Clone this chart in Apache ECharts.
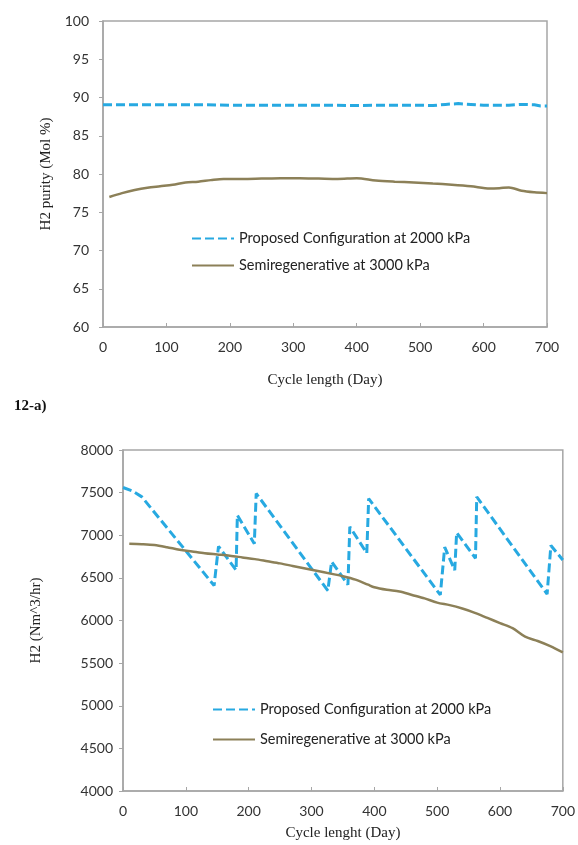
<!DOCTYPE html>
<html><head><meta charset="utf-8">
<script src="https://cdn.jsdelivr.net/npm/echarts@6/dist/echarts.min.js"></script>
<style>html,body{margin:0;padding:0;background:#fff}#c{width:578px;height:845px}</style>
</head><body><div id="c"></div>
<script>
// ---- Chart 12-a (top): H2 purity ----
const purityProposedDays = [0, 50, 100, 150, 200, 250, 300, 350, 400, 450, 500, 520, 540, 560, 580, 600, 640, 660, 680, 690, 700];
const purityProposed     = [89.05, 89.05, 89.05, 89.05, 89.0, 89.0, 89.0, 89.0, 88.95, 89.0, 89.0, 88.95, 89.1, 89.2, 89.1, 89.0, 89.0, 89.1, 89.05, 88.9, 88.9];
const puritySemiDays = [10, 30, 50, 70, 90, 110, 130, 150, 170, 190, 220, 250, 280, 310, 340, 370, 400, 430, 460, 490, 520, 550, 580, 610, 625, 640, 660, 680, 700];
const puritySemi     = [77.0, 77.5, 77.9, 78.2, 78.4, 78.6, 78.9, 79.0, 79.2, 79.35, 79.35, 79.4, 79.45, 79.45, 79.4, 79.35, 79.45, 79.15, 79.0, 78.9, 78.75, 78.6, 78.4, 78.1, 78.15, 78.25, 77.8, 77.6, 77.5];

// ---- Chart 12-b (bottom): H2 flow ----
const flowProposedDays = [0, 15, 30, 145, 148, 152, 180, 182, 209, 212, 326, 329, 332, 358, 361, 388, 391, 505, 508, 512, 528, 531, 561, 563, 675, 678, 681, 700];
const flowProposed     = [7560, 7520, 7450, 6410, 6390, 6870, 6590, 7235, 6900, 7490, 6350, 6330, 6690, 6420, 7100, 6790, 7430, 6300, 6280, 6860, 6590, 7030, 6730, 7450, 6310, 6290, 6880, 6710];
const flowSemiDays = [10, 30, 50, 70, 90, 110, 130, 150, 170, 190, 210, 230, 250, 270, 290, 310, 330, 350, 370, 390, 400, 420, 440, 460, 480, 500, 520, 540, 560, 580, 600, 620, 640, 660, 680, 700];
const flowSemi     = [6900, 6895, 6885, 6860, 6830, 6810, 6790, 6775, 6760, 6740, 6720, 6695, 6670, 6640, 6610, 6580, 6550, 6520, 6480, 6420, 6390, 6360, 6340, 6300, 6260, 6210, 6180, 6140, 6090, 6030, 5970, 5910, 5810, 5760, 5700, 5625];

const seriesNames = ['Proposed Configuration at 2000 kPa', 'Semiregenerative at 3000 kPa'];
const topTitle = '12-a)';
const topXName = 'Cycle length (Day)';
const topYName = 'H2 purity (Mol %)';
const botXName = 'Cycle lenght (Day)';
const botYName = 'H2 (Nm^3/hr)';

const pairs = (xs, ys) => xs.map((x, i) => [x, ys[i]]);

const BLUE = '#27a9e1';
const BROWN = '#8c8058';
const AXIS = '#a6a6a6';
const SANS = 'Lato';
const SERIF = 'Liberation Serif';

const chart = echarts.init(document.getElementById('c'), null, {renderer: 'canvas'});

function xAx(gi, name, gap) {
  return {
    gridIndex: gi, type: 'value', min: 0, max: 700, interval: 100,
    name: name, nameLocation: 'middle', nameGap: gap,
    nameTextStyle: {fontFamily: SERIF, fontSize: 15, color: '#222'},
    axisLine: {show: true, lineStyle: {color: AXIS, width: 1.5}},
    axisTick: {show: true, inside: true, length: 4, lineStyle: {color: AXIS}},
    axisLabel: {fontFamily: SANS, fontSize: 14, color: '#333', margin: 13},
    splitLine: {show: false}
  };
}
function yAx(gi, name, gap, min, max, interval, lm) {
  return {
    gridIndex: gi, type: 'value', min: min, max: max, interval: interval,
    name: name, nameLocation: 'middle', nameGap: gap,
    nameTextStyle: {fontFamily: SERIF, fontSize: 15, color: '#222'},
    axisLine: {show: true, lineStyle: {color: AXIS, width: 1.5}},
    axisTick: {show: true, inside: false, length: 4, lineStyle: {color: AXIS}},
    axisLabel: {fontFamily: SANS, fontSize: 14, color: '#333', margin: lm, formatter: v => String(v)},
    splitLine: {show: false}
  };
}

chart.setOption({
  animation: false,
  backgroundColor: '#fff',
  grid: [
    {left: 103, top: 21, width: 444, height: 306, show: true, borderColor: AXIS, borderWidth: 1.5},
    {left: 123, top: 450, width: 442, height: 341, show: true, borderColor: AXIS, borderWidth: 1.5}
  ],
  xAxis: [xAx(0, topXName, 46), xAx(1, botXName, 35)],
  yAxis: [yAx(0, topYName, 38, 60, 100, 5, 14), yAx(1, botYName, 79, 4000, 8000, 500, 10)],
  graphic: [{
    type: 'text', left: 14, top: 399,
    style: {text: topTitle, font: 'bold 15px "Liberation Serif"', fill: '#111'}
  }],
  legend: [
    {left: 186, top: 226, orient: 'vertical', itemWidth: 42, itemHeight: 14, itemGap: 12,
     data: seriesNames, selectedMode: false, itemStyle: {opacity: 0},
     textStyle: {fontFamily: SANS, fontSize: 14.5, color: '#222'}},
    {left: 207, top: 697, orient: 'vertical', itemWidth: 42, itemHeight: 14, itemGap: 15,
     data: seriesNames, selectedMode: false, itemStyle: {opacity: 0},
     textStyle: {fontFamily: SANS, fontSize: 14.5, color: '#222'}}
  ],
  series: [
    {name: seriesNames[0], type: 'line', xAxisIndex: 0, yAxisIndex: 0, showSymbol: false, symbol: 'none',
     data: pairs(purityProposedDays, purityProposed),
     lineStyle: {color: BLUE, width: 3, type: [9, 4]}, itemStyle: {color: BLUE}},
    {name: seriesNames[1], type: 'line', xAxisIndex: 0, yAxisIndex: 0, showSymbol: false, symbol: 'none',
     data: pairs(puritySemiDays, puritySemi), smooth: 0.3,
     lineStyle: {color: BROWN, width: 2.5}, itemStyle: {color: BROWN}},
    {name: seriesNames[0], type: 'line', xAxisIndex: 1, yAxisIndex: 1, showSymbol: false, symbol: 'none',
     data: pairs(flowProposedDays, flowProposed),
     lineStyle: {color: BLUE, width: 3, type: [9, 4]}, itemStyle: {color: BLUE}},
    {name: seriesNames[1], type: 'line', xAxisIndex: 1, yAxisIndex: 1, showSymbol: false, symbol: 'none',
     data: pairs(flowSemiDays, flowSemi), smooth: 0.3,
     lineStyle: {color: BROWN, width: 2.5}, itemStyle: {color: BROWN}}
  ]
});
</script>
</body></html>
